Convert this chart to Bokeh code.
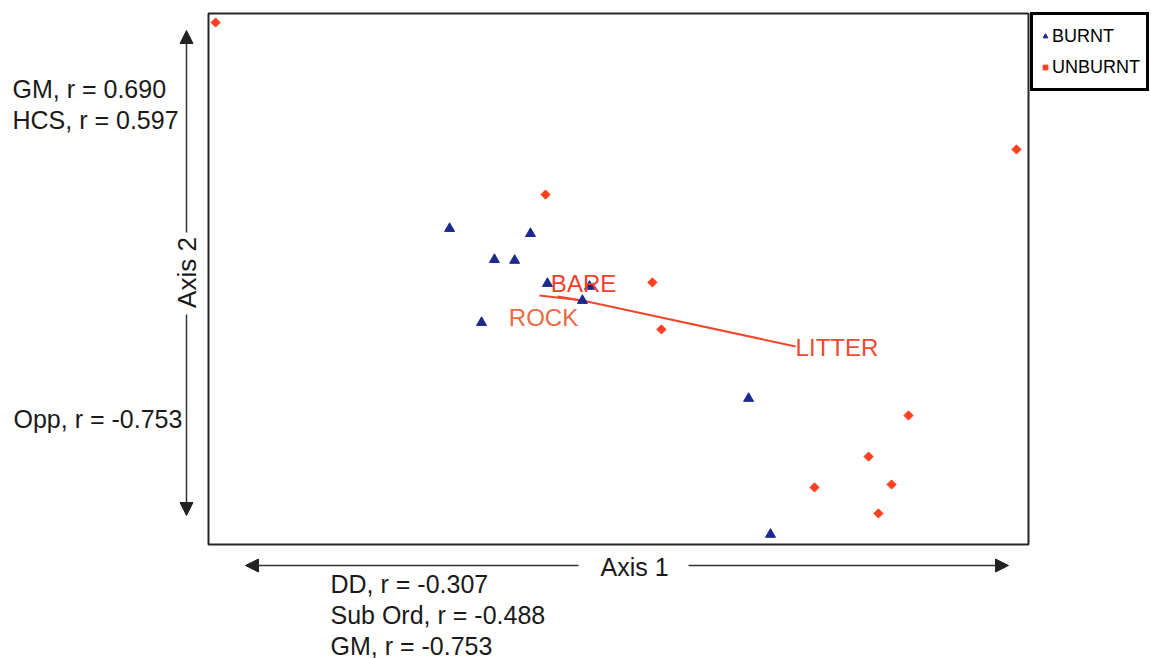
from math import pi

from bokeh.plotting import figure
from bokeh.models import Range1d, Label, Arrow, NormalHead, Legend, LegendItem
from bokeh.embed import file_html
from bokeh.resources import INLINE

# NMS ordination scores (axis 1, axis 2) for each plot
burnt_ax1 = [-0.618, -0.322, -0.454, -0.380, -0.501, 0.476, 0.556, -0.260, -0.106, -0.132]
burnt_ax2 = [0.190, 0.171, 0.073, 0.070, -0.164, -0.450, -0.962, -0.017, -0.028, -0.081]

unburnt_ax1 = [-1.474, 1.456, -0.267, 0.124, 0.157, 1.061, 0.915, 0.999, 0.717, 0.951]
unburnt_ax2 = [0.966, 0.488, 0.318, -0.013, -0.190, -0.514, -0.669, -0.774, -0.785, -0.883]

# environmental joint-plot vectors, drawn from the centroid
centroid = (-0.132, -0.081)
vector_names = ["BARE", "ROCK", "LITTER"]
vector_ax1 = [-0.223, -0.289, 0.648]
vector_ax2 = [-0.066, -0.062, -0.254]

# variables correlated with each ordination axis
axis2_pos_vars = ["GM", "HCS"]
axis2_pos_r = [0.690, 0.597]
axis2_neg_vars = ["Opp"]
axis2_neg_r = [-0.753]
axis1_neg_vars = ["DD", "Sub Ord", "GM"]
axis1_neg_r = [-0.307, -0.488, -0.753]

# extent of the ordination box in score units
AX1_MIN, AX1_MAX = -1.5, 1.5
AX2_MIN, AX2_MAX = -1.0, 1.0

FONT = "Liberation Sans"
INK = "#1a1a1a"
BURNT_COLOR = "#1c2a8c"
UNBURNT_COLOR = "#ff3f1f"

W, H = 1151, 658
# page pixels occupied by the ordination box
LEFT, RIGHT, TOP, BOTTOM = 208, 1028, 13, 544

# the plotting frame covers the whole page; extend the score ranges so the
# ordination box lands on its place and the margins hold the axis notes
ux = (AX1_MAX - AX1_MIN) / (RIGHT - LEFT)
uy = (AX2_MAX - AX2_MIN) / (BOTTOM - TOP)
x_range = Range1d(AX1_MIN - LEFT * ux, AX1_MAX + (W - RIGHT) * ux)
y_range = Range1d(AX2_MIN - (H - BOTTOM) * uy, AX2_MAX + TOP * uy)

p = figure(width=W, height=H, output_backend="svg", toolbar_location=None,
           x_range=x_range, y_range=y_range,
           x_axis_location=None, y_axis_location=None, min_border=0)
p.grid.visible = False
p.outline_line_color = None
p.background_fill_color = "white"
p.border_fill_color = "white"

# ordination box
p.quad(left=[AX1_MIN], right=[AX1_MAX], bottom=[AX2_MIN], top=[AX2_MAX],
       fill_color=None, line_color="#262626", line_width=2)

# joint-plot vectors
p.segment(x0=[centroid[0]] * len(vector_names), y0=[centroid[1]] * len(vector_names),
          x1=vector_ax1, y1=vector_ax2, line_color="#f0482c", line_width=2)

rb = p.scatter(burnt_ax1, burnt_ax2, marker="triangle", size=10,
               fill_color=BURNT_COLOR, line_color=BURNT_COLOR)
ru = p.scatter(unburnt_ax1, unburnt_ax2, marker="square", size=6.5, angle=pi / 4,
               fill_color=UNBURNT_COLOR, line_color=UNBURNT_COLOR)

# vector labels placed next to the vector tips
label_style = {
    "BARE": dict(x_offset=26, y_offset=13, text_align="center", text_color="#f0402a"),
    "ROCK": dict(x_offset=4, y_offset=-22, text_align="center", text_color="#ea6a44"),
    "LITTER": dict(x_offset=0, y_offset=-1, text_align="left", text_color="#ee4a30"),
}
for name, vx, vy in zip(vector_names, vector_ax1, vector_ax2):
    st = label_style[name]
    p.add_layout(Label(x=vx, y=vy, text=name, text_font=FONT, text_font_size="24px",
                       text_baseline="middle", **st))


def sx(px):
    return px


def sy(py):
    return H - py


legend = Legend(items=[LegendItem(label="BURNT", renderers=[rb]),
                       LegendItem(label="UNBURNT", renderers=[ru])],
                location=(1030, sy(91)),
                label_text_font=FONT, label_text_font_size="18px", label_text_color="black",
                border_line_color="black", border_line_width=3, border_line_alpha=1,
                padding=6, spacing=1, glyph_width=12, glyph_height=30,
                label_height=30, label_width=86, label_standoff=1,
                background_fill_color="white", background_fill_alpha=1)
p.add_layout(legend)


def head():
    return NormalHead(size=13, fill_color="#222222", line_color="#222222")


# axis direction arrows outside the ordination box
for x0, y0, x1, y1 in [(186, 232, 186, 30), (186, 314, 186, 515),
                       (578, 565, 245, 565), (688, 565, 1008, 565)]:
    p.add_layout(Arrow(end=head(), x_start=sx(x0), y_start=sy(y0), x_end=sx(x1), y_end=sy(y1),
                       start_units="screen", end_units="screen",
                       line_color="#333333", line_width=1.5))

p.add_layout(Label(x=sx(186), y=sy(272), x_units="screen", y_units="screen", text="Axis 2",
                   angle=pi / 2, text_align="center", text_baseline="middle",
                   text_font=FONT, text_font_size="26px", text_color=INK))
p.add_layout(Label(x=sx(634), y=sy(566), x_units="screen", y_units="screen", text="Axis 1",
                   text_align="center", text_baseline="middle",
                   text_font=FONT, text_font_size="25px", text_color=INK))


def corr_text(name, r):
    return f"{name}, r = {r:.3f}"


for i, (n, r) in enumerate(zip(axis2_pos_vars, axis2_pos_r)):
    p.add_layout(Label(x=sx(12), y=sy(88 + 31 * i), x_units="screen", y_units="screen",
                       text=corr_text(n, r), text_align="left", text_baseline="middle",
                       text_font=FONT, text_font_size="25px", text_color=INK))
for i, (n, r) in enumerate(zip(axis2_neg_vars, axis2_neg_r)):
    p.add_layout(Label(x=sx(13), y=sy(418 + 31 * i), x_units="screen", y_units="screen",
                       text=corr_text(n, r), text_align="left", text_baseline="middle",
                       text_font=FONT, text_font_size="25px", text_color=INK))
for i, (n, r) in enumerate(zip(axis1_neg_vars, axis1_neg_r)):
    p.add_layout(Label(x=sx(330), y=sy(583 + 31 * i), x_units="screen", y_units="screen",
                       text=corr_text(n, r), text_align="left", text_baseline="middle",
                       text_font=FONT, text_font_size="25px", text_color=INK))

open("out.html", "w").write(file_html(p, INLINE))
